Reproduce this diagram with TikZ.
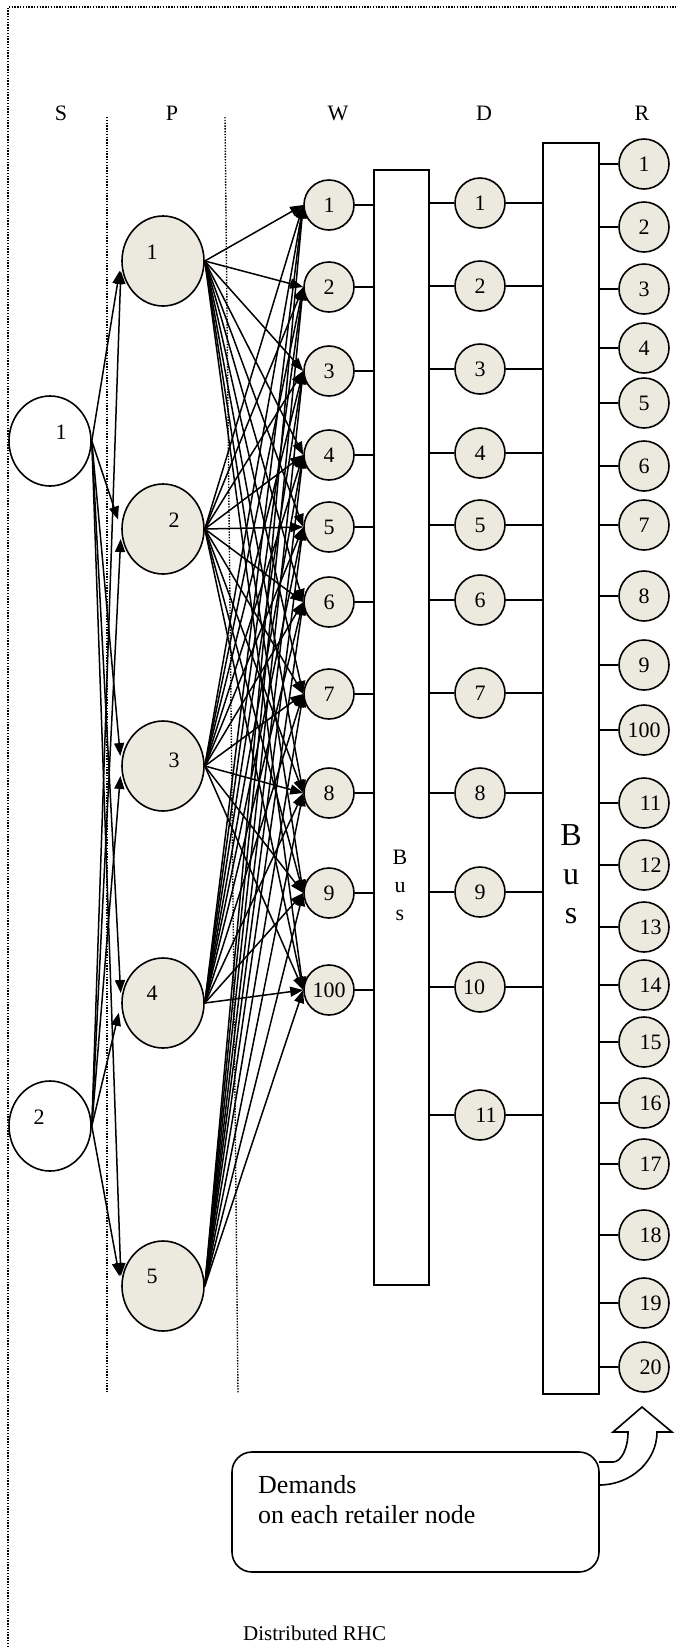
\documentclass[tikz,border=0pt]{standalone}
\usepackage{fontspec}
\setmainfont{Liberation Serif}
\usetikzlibrary{shapes.geometric,arrows.meta,calc}
\definecolor{nodefill}{RGB}{236,233,222}

\tikzset{
  big/.style={ellipse,draw,line width=1.6pt,minimum width=82pt,minimum height=90pt,inner sep=0pt},
  small/.style={circle,draw,line width=1.6pt,fill=nodefill,minimum size=50pt,inner sep=0pt},
  arr/.style={line width=1.5pt,-{Triangle[length=13pt,width=10pt]}},
  link/.style={line width=1.6pt},
  sep/.style={line width=1.4pt,dash pattern=on 1.4pt off 1.4pt}
}

\begin{document}
\begin{tikzpicture}[x=1pt,y=-1pt,font=\fontsize{22}{26}\selectfont]
\useasboundingbox (0,0) rectangle (676,1647);
\draw[sep] (8,1647) -- (8,7) -- (676,7);
\draw[sep] (107,117) -- (107,1393);
\draw[sep] (225,117) -- (238,1393);

\node (hS) at (61,113) {S};
\node (hP) at (172,113) {P};
\node (hW) at (338,113) {W};
\node (hD) at (484,113) {D};
\node (hR) at (642,113) {R};

\node[big] (S1) at (50,441) [label={[xshift=11pt,yshift=9pt]center:1}] {};
\node[big] (S2) at (50,1126) [label={[xshift=-11pt,yshift=9pt]center:2}] {};
\node[big,fill=nodefill] (P1) at (163,261) [label={[xshift=-11pt,yshift=9pt]center:1}] {};
\node[big,fill=nodefill] (P2) at (163,529) [label={[xshift=11pt,yshift=9pt]center:2}] {};
\node[big,fill=nodefill] (P3) at (163,766) [label={[xshift=11pt,yshift=6pt]center:3}] {};
\node[big,fill=nodefill] (P4) at (163,1003) [label={[xshift=-11pt,yshift=10pt]center:4}] {};
\node[big,fill=nodefill] (P5) at (163,1286) [label={[xshift=-11pt,yshift=10pt]center:5}] {};

\foreach \y/\t [count=\n] in {205/1,287/2,371/3,455/4,527/5,602/6,694/7,793/8,893/9,990/100}
  \node[small] (W\n) at (329,\y) {\t};
\foreach \y/\t [count=\n] in {203/1,286/2,369/3,453/4,525/5,600/6,693/7,793/8,892/9,987/{10\hspace*{12pt}},1115/{\hspace*{12pt}11}}
  \node[small] (D\n) at (480,\y) {\t};
\foreach \y/\t [count=\n] in {164/1,227/2,289/3,348/4,403/5,466/6,525/7,596/8,665/9,730/100}
  \node[small] (R\n) at (644,\y) {\t};
\foreach \y [count=\n from 11] in {803,865,927,985,1042,1103,1164,1235,1303,1367}
  \node[small] (R\n) at (644,\y) {\hspace*{13pt}\n};

\node[draw,link,minimum width=55pt,minimum height=1115pt,inner sep=0pt] (bus1) at (401.5,727.5) {};
\node[draw,link,minimum width=56pt,minimum height=1251pt,inner sep=0pt] (bus2) at (571,768.5) {};
\node[align=center,font=\fontsize{22}{28}\selectfont] (bus1txt) at (400,885) {B\\u\\s};
\node[align=center,font=\fontsize{32}{39}\selectfont] (bus2txt) at (571,874) {B\\u\\s};

\foreach \i in {1,2}
  \foreach \j in {1,...,5}
    \draw[arr] (S\i.east) -- ($(P\j.west)!10pt!(S\i.east)$);
\foreach \i in {1,...,5}
  \foreach \j in {1,...,10}
    \draw[arr] (P\i.east) -- (W\j.west);

\foreach \j in {1,...,10}
  \draw[link] (W\j.east) -- (W\j.east -| bus1.west);
\foreach \j in {1,...,11}{
  \draw[link] (D\j.west) -- (D\j.west -| bus1.east);
  \draw[link] (D\j.east) -- (D\j.east -| bus2.west);
}
\foreach \j in {1,...,20}
  \draw[link] (R\j.west) -- (R\j.west -| bus2.east);

\draw[link,fill=white] (599,1462) -- (613,1462) .. controls (621,1462) and (628,1449) .. (628,1432)
  -- (613,1432) -- (642,1407) -- (672,1432) -- (657,1432)
  .. controls (657,1461) and (631,1485) .. (599,1485);
\node[draw,link,rounded corners=20pt,minimum width=367pt,minimum height=120pt] (demand) at (415.5,1512) {};
\node[anchor=north west,inner sep=0pt,align=left,font=\fontsize{26}{30}\selectfont] (demtext) at (258,1475) {Demands\\on each retailer node};

\node[anchor=base west,inner sep=0pt,font=\fontsize{21}{24}\selectfont] (caption) at (243,1640) {Distributed RHC};
\end{tikzpicture}
\end{document}
